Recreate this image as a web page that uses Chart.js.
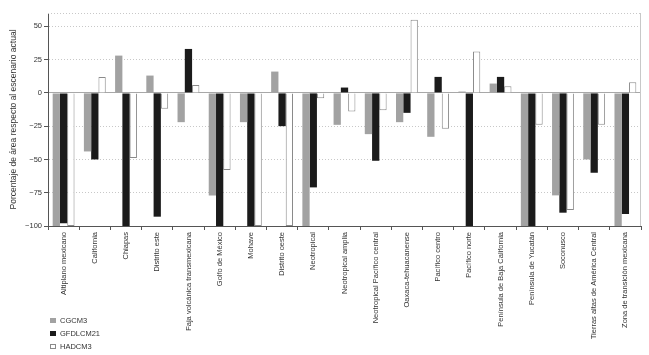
<!DOCTYPE html>
<html>
<head>
<meta charset="utf-8">
<script src="https://cdn.jsdelivr.net/npm/chart.js@4"></script>
<style>
  html,body{margin:0;padding:0;background:#fff;}
  #wrap{position:relative;width:649px;height:355px;}
  #legend{position:absolute;left:50px;top:314px;font:7.5px "Liberation Sans",Arial,sans-serif;color:#333;}
  #legend .item{height:13px;display:flex;align-items:center;}
  #legend .box{display:inline-block;width:6px;height:5px;margin-right:4px;box-sizing:border-box;}
</style>
</head>
<body>
<div id="wrap">
  <canvas id="chart" width="649" height="355"></canvas>
  <div id="legend"></div>
</div>
<script>
/* ---------- Data ---------- */
const categories = [
  'Altiplano mexicano', 'California', 'Chiapas', 'Distrito este',
  'Faja volcánica transmexicana', 'Golfo de México', 'Mohave', 'Distrito oeste',
  'Neotropical', 'Neotropical amplia', 'Neotropical Pacífico central',
  'Oaxaca-tehuacanense', 'Pacífico centro', 'Pacífico norte',
  'Península de Baja California', 'Península de Yucatán', 'Soconusco',
  'Tierras altas de América Central', 'Zona de transición mexicana'
];
const cgcm3    = [-100, -44,  28,  13, -22, -77, -22,  16, -100, -24, -31, -22, -33,   1,   7, -100, -77, -50, -100];
const gfdlcm21 = [ -98, -50, -100, -93,  33, -100, -100, -25, -71,   4, -51, -15,  12, -100,  12, -100, -90, -60, -91];
const hadcm3   = [-100,  12, -49, -12,   6, -58, -100, -100,  -4, -14, -13,  55, -27,  31,   5, -24, -88, -24,   8];
const seriesNames = ['CGCM3', 'GFDLCM21', 'HADCM3'];

const Y_MIN = -100, Y_MAX = 60, Y_STEP = 25;

/* ---------- Styles ---------- */
const FONT = '"Liberation Sans", Arial, sans-serif';
const TXT  = '#333';
const AXIS = '#555';
const fills   = ['#a2a2a2', '#1b1b1b', '#ffffff'];
const borders = ['#a2a2a2', '#1b1b1b', '#8a8a8a'];

/* top + right frame of the plot area */
const frame = {
  id: 'frame',
  afterDraw(chart){
    const {ctx, chartArea:a} = chart;
    ctx.save();
    ctx.strokeStyle = '#c8c8c8';
    ctx.lineWidth = 1;
    ctx.setLineDash([1,2]);
    ctx.beginPath(); ctx.moveTo(a.left, a.top + .5); ctx.lineTo(a.right, a.top + .5); ctx.stroke();
    ctx.setLineDash([]);
    ctx.beginPath(); ctx.moveTo(a.right - .5, a.top); ctx.lineTo(a.right - .5, a.bottom); ctx.stroke();
    ctx.restore();
  }
};

const data = [cgcm3, gfdlcm21, hadcm3];

new Chart(document.getElementById('chart'), {
  type: 'bar',
  data: {
    labels: categories,
    datasets: data.map((d,i)=>({
      label: seriesNames[i],
      data: d,
      backgroundColor: fills[i],
      borderColor: borders[i],
      borderWidth: i === 2 ? 1 : 0,
      categoryPercentage: 0.7,
      barPercentage: 1.0
    }))
  },
  options: {
    responsive: false,
    devicePixelRatio: 1,
    animation: false,
    layout: { padding: { top: 13, right: 8, left: 0, bottom: 0 } },
    plugins: { legend: { display:false }, tooltip: { enabled:false } },
    scales: {
      x: {
        offset: true,
        afterFit: (s)=>{ s.height = 129; },
        grid: { offset: true, drawOnChartArea: false, tickLength: 4, tickColor: AXIS },
        border: { color: AXIS },
        ticks: {
          autoSkip: false, minRotation: 90, maxRotation: 90, padding: 2,
          color: TXT, font: { family: FONT, size: 7.5 }
        }
      },
      y: {
        min: Y_MIN, max: Y_MAX, bounds: 'data',
        afterFit: (s)=>{ s.width = 48; },
        grid: {
          color: (c)=> c.tick && c.tick.value === 0 ? '#a8a8a8' : '#c8c8c8',
          tickLength: 4, tickColor: AXIS
        },
        border: {
          color: AXIS,
          dash: (c)=> c.tick && c.tick.value === 0 ? [] : [1,2]
        },
        ticks: {
          stepSize: Y_STEP, padding: 2,
          color: TXT, font: { family: FONT, size: 7.5 },
          callback: (v)=> v % Y_STEP !== 0 ? null : (v < 0 ? '\u2212' + Math.abs(v) : String(v))
        },
        title: {
          display: true,
          text: 'Porcentaje de área respecto al escenario actual',
          color: TXT, font: { family: FONT, size: 8.5 },
          padding: { top: 9, bottom: 0 }
        }
      }
    }
  },
  plugins: [frame]
});

/* ---------- Legend ---------- */
const lg = document.getElementById('legend');
seriesNames.forEach((n,i)=>{
  const row = document.createElement('div');
  row.className = 'item';
  const b = document.createElement('span');
  b.className = 'box';
  b.style.background = fills[i];
  b.style.border = '1px solid ' + borders[i];
  row.appendChild(b);
  row.appendChild(document.createTextNode(n));
  lg.appendChild(row);
});
</script>
</body>
</html>
